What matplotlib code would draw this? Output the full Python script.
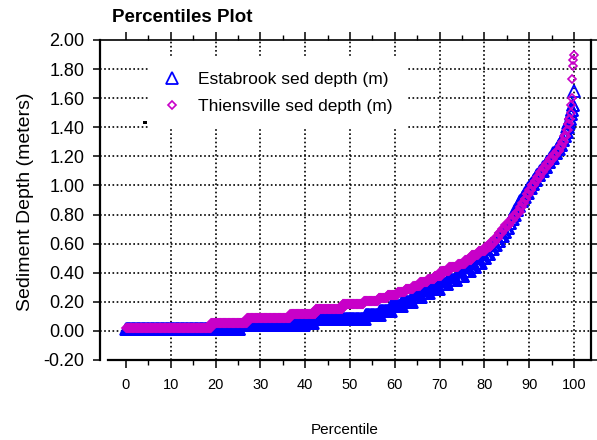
import numpy as np
import matplotlib
matplotlib.use('Agg')
import matplotlib.pyplot as plt
from matplotlib.patches import Rectangle

# ---- data (sediment depth samples, run-length encoded: depth value, number of samples) ----
est_depth = [0.01, 0.04, 0.055, 0.08, 0.11, 0.14, 0.17, 0.20, 0.23, 0.26, 0.29, 0.32, 0.35,
             0.38, 0.41, 0.44, 0.47, 0.50, 0.53, 0.56, 0.59, 0.62, 0.65, 0.68, 0.71, 0.74,
             0.77, 0.80, 0.83, 0.86, 0.89, 0.92, 0.95, 0.98, 1.01, 1.04, 1.07, 1.10, 1.13,
             1.16, 1.19, 1.22, 1.25, 1.28, 1.31, 1.34, 1.37, 1.40, 1.43, 1.46, 1.49, 1.52,
             1.55, 1.65]
est_count = [204, 116, 16, 94, 26, 20, 20, 18, 16, 14, 18, 16, 16,
             12, 12, 10, 10, 8, 7, 6, 6, 6, 6, 5, 5, 4,
             4, 4, 4, 4, 5, 5, 5, 5, 5, 5, 6, 6, 6,
             6, 6, 6, 5, 4, 4, 3, 3, 2, 2, 2, 2, 2,
             2, 1]

thi_depth = [0.017, 0.055, 0.09, 0.115, 0.15, 0.185, 0.205, 0.225, 0.25, 0.27, 0.29, 0.31,
             0.335, 0.36, 0.38, 0.41, 0.44, 0.46, 0.49, 0.52, 0.55, 0.58, 0.61, 0.64, 0.67,
             0.70, 0.73, 0.76, 0.79, 0.82, 0.85, 0.88, 0.91, 0.94, 0.97, 1.00, 1.03, 1.06,
             1.09, 1.12, 1.15, 1.18, 1.21, 1.24, 1.27, 1.30, 1.34, 1.38, 1.42, 1.46, 1.50,
             1.55, 1.60, 1.73, 1.82, 1.86, 1.90]
thi_count = [152, 64, 77, 45, 48, 38, 26, 16, 18, 14, 14, 12,
             14, 12, 12, 14, 16, 12, 12, 12, 12, 10, 8, 6, 6,
             6, 8, 6, 6, 6, 4, 4, 4, 4, 5, 5, 5, 5,
             5, 6, 6, 6, 6, 6, 4, 4, 4, 3, 2, 2, 1,
             1, 1, 1, 1, 1, 1]

series_labels = ['Estabrook sed depth (m)', 'Thiensville sed depth (m)']
x_ticks = [0, 10, 20, 30, 40, 50, 60, 70, 80, 90, 100]
x_minor_ticks = [5, 15, 25, 35, 45, 55, 65, 75, 85, 95]
y_ticks = [-0.2, 0.0, 0.2, 0.4, 0.6, 0.8, 1.0, 1.2, 1.4, 1.6, 1.8, 2.0]
y_tick_labels = ['-0.20', '0.00', '0.20', '0.40', '0.60', '0.80', '1.00', '1.20',
                 '1.40', '1.60', '1.80', '2.00']

# ---- style ----
plt.rcParams['font.family'] = ['Liberation Sans', 'DejaVu Sans']
BLUE = '#0000FF'
MAGENTA = '#C800C8'
W, H = 597, 440

est_vals = np.repeat(est_depth, est_count)
thi_vals = np.repeat(thi_depth, thi_count)
est_pct = np.linspace(0, 100, len(est_vals))   # percentile rank of sorted samples
thi_pct = np.linspace(0, 100, len(thi_vals))

fig = plt.figure(figsize=(W / 100, H / 100), dpi=100)
ax = fig.add_axes([100 / W, 80 / H, 491 / W, 320 / H])
ax.set_xlim(-5.8, 103.8)
ax.set_ylim(-0.2, 2.0)

# dotted grid
for xv in x_ticks[1:]:
    ax.axvline(xv, color='black', lw=1.2, ls=(0, (1, 1.5)), zorder=0.5)
for yv in y_ticks[1:-1]:
    ax.axhline(yv, color='black', lw=1.2, ls=(0, (1, 1.5)), zorder=0.5)

ax.plot(est_pct, est_vals, ls='none', marker='^', ms=8, mfc='none', mec=BLUE, mew=1.3,
        label=series_labels[0], zorder=3)
ax.plot(thi_pct, thi_vals, ls='none', marker='D', ms=4.0, mfc='none', mec=MAGENTA, mew=1.2,
        label=series_labels[1], zorder=4)

# axes / ticks
ax.set_xticks(x_ticks)
ax.set_xticks(x_minor_ticks, minor=True)
ax.set_yticks(y_ticks)
ax.set_yticklabels(y_tick_labels)
ax.tick_params(axis='x', which='major', direction='out', length=6, width=1.1,
               top=True, bottom=True, labeltop=False, labelsize=10.5, pad=7)
ax.tick_params(axis='x', which='minor', direction='out', length=3.5, width=1.0,
               top=True, bottom=True)
ax.tick_params(axis='y', which='major', direction='out', length=5, width=1.1,
               left=True, right=True, labelright=False, labelsize=13, pad=6)
for side in ['left', 'right', 'bottom', 'top']:
    ax.spines[side].set_linewidth(1.6)
ax.spines['top'].set_linewidth(1.2)
ax.spines['bottom'].set_bounds(-4, 103.8)

leg = ax.legend(loc='upper left', bbox_to_anchor=((149 - 100) / 491, (360 - 57) / 320),
                borderaxespad=0, frameon=True, fancybox=False, fontsize=12.5,
                handlelength=1.0, handletextpad=1.0, borderpad=0.85, labelspacing=0.7,
                markerscale=1.0)
leg.get_frame().set_facecolor('white')
leg.get_frame().set_edgecolor('none')
leg.get_frame().set_alpha(1)
leg.set_zorder(5)

fig.text(112 / W, 1 - 17 / H, 'Percentiles Plot', fontweight='bold', fontsize=13.5,
         ha='left', va='center')
fig.text(25 / W, 1 - 202 / H, 'Sediment Depth (meters)', fontsize=14, rotation=90,
         ha='center', va='center')
fig.text(345 / W, 1 - 430 / H, 'Percentile', fontsize=11, ha='center', va='center')

fig.patches.append(Rectangle((143 / W, 1 - 124 / H), 4 / W, 3 / H, transform=fig.transFigure,
                             facecolor='black', edgecolor='none'))

fig.savefig('out.png', dpi=100)
